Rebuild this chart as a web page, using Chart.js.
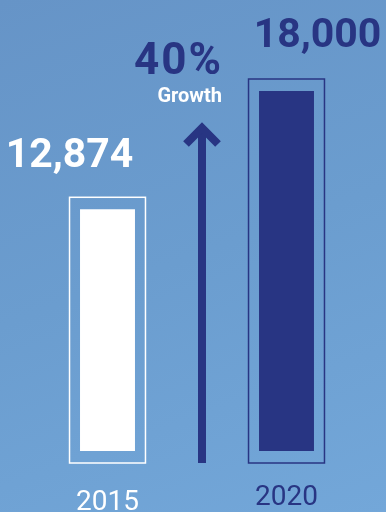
<!DOCTYPE html>
<html>
<head>
<meta charset="utf-8">
<script src="https://cdn.jsdelivr.net/npm/chart.js@4"></script>
<style>
    html, body { margin: 0; padding: 0; }
    body {
        width: 386px;
        height: 512px;
        overflow: hidden;
        background: linear-gradient(160deg, #6694c7 0%, #6b9dcf 50%, #73a7d9 100%);
    }
</style>
</head>
<body>
<canvas id="growthChart" width="386" height="512"></canvas>
<script>
const years = ['2015', '2020'];
const visitors = [12874, 18000];
const valueLabels = ['12,874', '18,000'];
const growthLabel = ['40%', 'Growth'];

const navy = '#283583';
const white = '#ffffff';
const barColors = [white, navy];
const yearColors = [white, navy];

// outline boxes, labels and the arrow are drawn from the bar elements
const decorations = {
    id: 'decorations',
    afterDatasetsDraw(chart) {
        const ctx = chart.ctx;
        const bars = chart.getDatasetMeta(0).data;
        const area = chart.chartArea;

        ctx.save();

        // frames round each bar (bars are clipped at the chart bottom)
        bars.forEach((bar, i) => {
            const half = bar.width / 2;
            ctx.strokeStyle = barColors[i];
            ctx.lineWidth = 1.5;
            ctx.strokeRect(bar.x - half - 10.5, bar.y - 12, bar.width + 21, area.bottom - bar.y + 24);
        });

        // growth arrow between the bars
        const midX = (bars[0].x + bars[1].x) / 2 + 5;
        const tipY = area.top + 37;
        ctx.strokeStyle = navy;
        ctx.lineWidth = 8;
        ctx.lineJoin = 'miter';
        ctx.beginPath();
        ctx.moveTo(midX, area.bottom + 12);
        ctx.lineTo(midX, tipY + 2);
        ctx.stroke();
        ctx.beginPath();
        ctx.moveTo(midX - 16, tipY + 16);
        ctx.lineTo(midX, tipY);
        ctx.lineTo(midX + 16, tipY + 16);
        ctx.stroke();

        // value labels
        ctx.textAlign = 'center';
        ctx.textBaseline = 'alphabetic';
        ctx.font = 'bold 41px Roboto';
        ctx.fillStyle = white;
        ctx.fillText(valueLabels[0], bars[0].x - 38, bars[0].y - 42);
        ctx.fillStyle = navy;
        ctx.fillText(valueLabels[1], bars[1].x + 31, bars[1].y - 44);

        // growth label
        ctx.textAlign = 'right';
        ctx.fillStyle = navy;
        ctx.font = 'bold 44px Roboto';
        ctx.letterSpacing = '2px';
        ctx.fillText(growthLabel[0], midX + 21, area.top - 17);
        ctx.letterSpacing = '0px';
        ctx.fillStyle = white;
        ctx.font = 'bold 20px Roboto';
        ctx.fillText(growthLabel[1], midX + 20, area.top + 11);

        // year labels
        ctx.textAlign = 'center';
        ctx.font = '28px Roboto';
        bars.forEach((bar, i) => {
            ctx.fillStyle = yearColors[i];
            ctx.fillText(years[i], bar.x, area.bottom + (i === 0 ? 59 : 54));
        });

        ctx.restore();
    }
};

const ctx = document.getElementById('growthChart').getContext('2d');
// eslint-disable-next-line no-undef
new Chart(ctx, {
    type: 'bar',
    data: {
        labels: years,
        datasets: [{
            data: visitors,
            backgroundColor: barColors,
            borderWidth: 0,
            barPercentage: 0.307,
            categoryPercentage: 1
        }]
    },
    options: {
        responsive: false,
        animation: false,
        layout: {
            padding: { top: 91, bottom: 61, left: 18, right: 10 }
        },
        plugins: {
            legend: { display: false },
            tooltip: { enabled: false }
        },
        scales: {
            x: { display: false },
            y: { display: false, min: 2400, max: 18000 }
        }
    },
    plugins: [decorations]
});
</script>
</body>
</html>
